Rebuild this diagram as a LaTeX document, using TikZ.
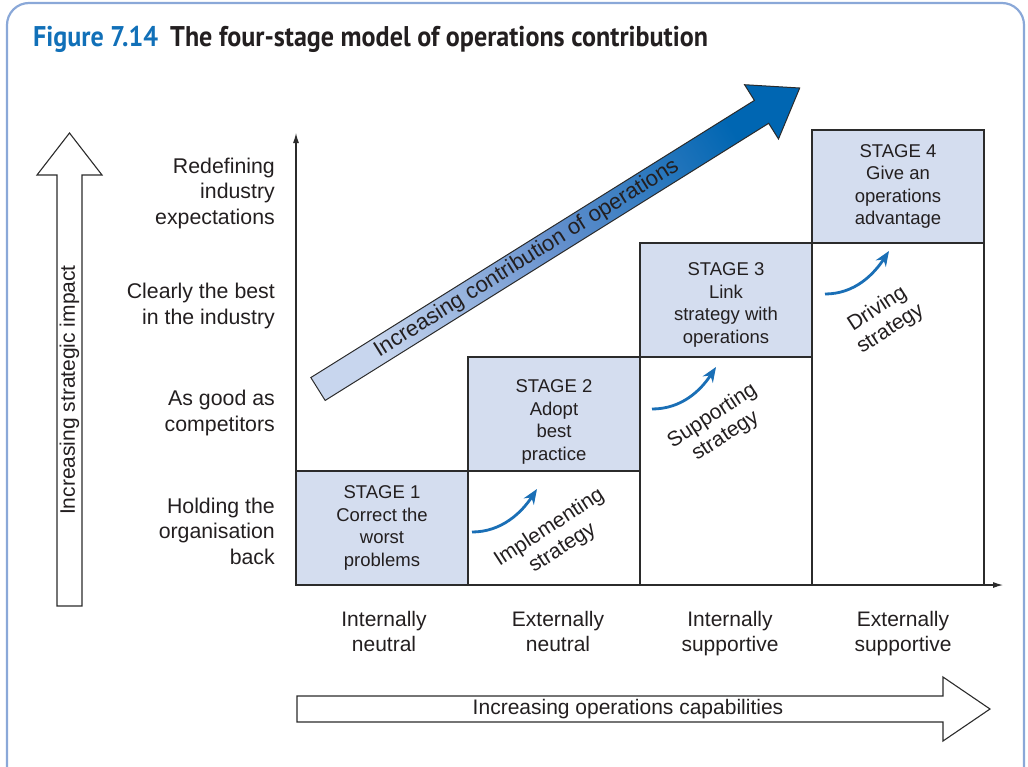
\documentclass[tikz,border=0pt]{standalone}
\usepackage{fontspec}
\setmainfont{Liberation Sans}
\newfontfamily\titlefont[FakeStretch=0.915]{PT Sans}
\usetikzlibrary{arrows.meta}
\definecolor{framecol}{HTML}{8AA8D8}
\definecolor{stagefill}{HTML}{D4DDEF}
\definecolor{linecol}{HTML}{2B2B2B}
\definecolor{txtcol}{HTML}{231F20}
\definecolor{figblue}{HTML}{1170B8}
\definecolor{turnblue}{HTML}{1A6FB6}
\definecolor{bigdark}{HTML}{0066B2}
\definecolor{bigmid}{HTML}{6590CD}
\definecolor{biglight}{HTML}{C8D6EE}

\begin{document}
\begin{tikzpicture}[x=1pt, y=-1pt, >=Latex, text=txtcol,
  stagebox/.style={draw=linecol, line width=1.1pt, fill=stagefill, minimum width=172, minimum height=114},
  stagetext/.style={align=center, font=\fontsize{18.5}{22.5}\selectfont},
  colbox/.style={draw=linecol, line width=1.1pt, fill=white, minimum width=172},
  lvl/.style={anchor=east, align=right, inner sep=0pt, font=\fontsize{21.3}{25.5}\selectfont},
  caplabel/.style={anchor=north, align=center, font=\fontsize{21}{25}\selectfont},
  drv/.style={align=center, rotate=33, font=\fontsize{21}{24}\selectfont},
  blueturn/.style={turnblue, line width=2.8pt, -{Stealth[length=15pt, width=12pt]}},
  hollow/.style={draw=linecol, line width=1.1pt, fill=white}]
\useasboundingbox (0,0) rectangle (1028,766);
\clip (0,0) rectangle (1028,766);
\draw[framecol, line width=2.2pt, rounded corners=22pt] (7,3) rectangle (1024,820);
% title
\node[anchor=base west, inner sep=0pt, text=figblue, font=\titlefont\bfseries\fontsize{28.5}{32}\selectfont] (fig) at (33,46) {Figure 7.14};
\node[anchor=base west, inner sep=0pt, text=txtcol, font=\titlefont\bfseries\fontsize{28.5}{32}\selectfont] (title) at (170,46) {The four-stage model of operations contribution};
% axes
\coordinate (O) at (296,585);
\coordinate (ytop) at (296,133);
\coordinate (xend) at (1003,585);
\draw[linecol, line width=1.1pt, -{Latex[length=10pt, width=6pt]}] (O) -- (ytop);
\draw[linecol, line width=1.1pt, -{Latex[length=10pt, width=6pt]}] (O) -- (xend);
% columns under the stages
\node[colbox, minimum height=114] (col2) at (554,528) {};
\node[colbox, minimum height=228] (col3) at (726,471) {};
\node[colbox, minimum height=342] (col4) at (898,414) {};
% the four stages
\node[stagebox] (s1) at (382,528) {};
\node[stagebox] (s2) at (554,414) {};
\node[stagebox] (s3) at (726,300) {};
\node[stagebox, minimum height=113] (s4) at (898,186.5) {};
\node[stagetext] (s1t) at (s1.center) {STAGE 1\\Correct the\\worst\\problems};
\node[stagetext] (s2t) at ([yshift=-8pt]s2.center) {STAGE 2\\Adopt\\best\\practice};
\node[stagetext] (s3t) at ([yshift=-5pt]s3.center) {STAGE 3\\Link\\strategy with\\operations};
\node[stagetext] (s4t) at (s4.center) {STAGE 4\\Give an\\operations\\advantage};
% strategic impact levels
\node[lvl] (l4) at (275,193) {Redefining\\industry\\expectations};
\node[lvl] (l3) at (275,306) {Clearly the best\\in the industry};
\node[lvl] (l2) at (275,413) {As good as\\competitors};
\node[lvl] (l1) at (275,531) {Holding the\\organisation\\back};
% capability levels
\node[caplabel] (c1) at (384,608) {Internally\\neutral};
\node[caplabel] (c2) at (558,608) {Externally\\neutral};
\node[caplabel] (c3) at (730,608) {Internally\\supportive};
\node[caplabel] (c4) at (903,608) {Externally\\supportive};
% role of strategy
\coordinate (t1s) at (472,532); \coordinate (t1e) at (537,489);
\coordinate (t2s) at (652,409); \coordinate (t2e) at (716,367);
\coordinate (t3s) at (825,294); \coordinate (t3e) at (889,251);
\draw[blueturn] (t1s) .. controls +(30,0) and +(-15,23) .. (t1e);
\draw[blueturn] (t2s) .. controls +(30,0) and +(-15,23) .. (t2e);
\draw[blueturn] (t3s) .. controls +(30,0) and +(-15,23) .. (t3e);
\node[drv] (d1) at (556,538) {Implementing\\strategy};
\node[drv] (d2) at (719,426) {Supporting\\strategy};
\node[drv] (d3) at (884,319) {Driving\\strategy};
% hollow axis arrows
\draw[hollow] (57,606) -- (57,175) -- (37,175) -- (69.5,133) -- (102,175) -- (82,175) -- (82,606) -- cycle;
\node[rotate=90, font=\fontsize{21}{25}\selectfont] (impact) at (69.5,390) {Increasing strategic impact};
\draw[hollow] (297,696) -- (943,696) -- (943,677) -- (990,709) -- (943,741) -- (943,722) -- (297,722) -- cycle;
\node[font=\fontsize{21}{25}\selectfont] (capab) at (628,709) {Increasing operations capabilities};
% big shaded arrow
\begin{scope}[shift={(318,389)}, rotate=32]
\shade[draw=linecol, line width=1pt, top color=bigdark, bottom color=biglight, middle color=bigmid, shading angle=-58]
  (0,-13.5) -- (523,-13.5) -- (523,-32) -- (568,0) -- (523,32) -- (523,13.5) -- (0,13.5) -- cycle;
\node[rotate=32, font=\fontsize{22}{26}\selectfont] (contrib) at (246,0) {Increasing contribution of operations};
\end{scope}
\end{tikzpicture}
\end{document}
